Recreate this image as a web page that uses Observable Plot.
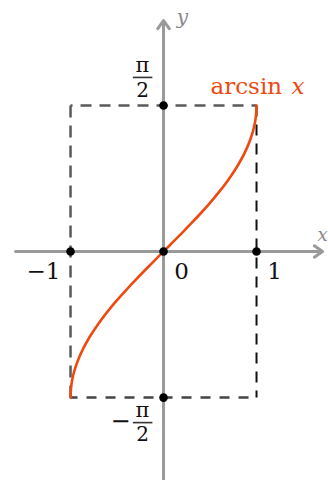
<!DOCTYPE html>
<html>
<head>
<meta charset="utf-8">
<script src="https://cdn.jsdelivr.net/npm/d3@7"></script>
<script src="https://cdn.jsdelivr.net/npm/@observablehq/plot@0.6"></script>
<style>
  html, body { margin: 0; padding: 0; background: #fff; }
  svg { display: block; }
</style>
</head>
<body>
<div id="chart"></div>
<script>
const PI2 = Math.PI / 2;

// curve samples of arcsin x (x, y)
const curveX = [-1, -0.999, -0.995, -0.99, -0.98, -0.96, -0.9, -0.8, -0.7, -0.6, -0.5, -0.4, -0.3, -0.2, -0.1, 0,
                0.1, 0.2, 0.3, 0.4, 0.5, 0.6, 0.7, 0.8, 0.9, 0.96, 0.98, 0.99, 0.995, 0.999, 1];
const curveY = [-1.5708, -1.5261, -1.4706, -1.4293, -1.3705, -1.2870, -1.1198, -0.9273, -0.7754, -0.6435, -0.5236, -0.4115, -0.3047, -0.2014, -0.1002, 0,
                0.1002, 0.2014, 0.3047, 0.4115, 0.5236, 0.6435, 0.7754, 0.9273, 1.1198, 1.2870, 1.3705, 1.4293, 1.4706, 1.5261, 1.5708];

// marked points
const pointX = [-1, 0, 1, 0, 0];
const pointY = [0, 0, 0, PI2, -PI2];

// tick labels on x axis
const xTickValues = [-1, 0, 1];
const xTickLabels = ["−1", "0", "1"];

// bounding box of the range
const boxX = [-1, 1];
const boxY = [-PI2, PI2];

const curve = curveX.map((x, i) => ({x, y: curveY[i]}));
const points = pointX.map((x, i) => ({x, y: pointY[i]}));

const serif = "'DejaVu Serif', 'Liberation Serif', serif";
const axisColor = "#9a9a9a";
const red = "#ee4a10";
const ink = "#111";

const seg = (d, o) => Plot.link([d], {x1: "x1", x2: "x2", y1: "y1", y2: "y2", ...o});
const label = (x, y, text, o) => Plot.text([{x, y}], {x: "x", y: "y", text: () => text, lineAnchor: "middle", ...o});

const chart = Plot.plot({
  width: 328,
  height: 480,
  margin: 0,
  x: {domain: [-1.753, 1.774], axis: null},
  y: {domain: [-2.462, 2.699], axis: null},
  style: {fontFamily: serif, background: "#fff"},
  marks: [
    // axes
    Plot.arrow([{x1: -1.591, x2: 1.71, y1: 0, y2: 0}], {x1: "x1", x2: "x2", y1: "y1", y2: "y2",
      stroke: axisColor, strokeWidth: 3, headLength: 5, headAngle: 70}),
    Plot.arrow([{x1: 0, x2: 0, y1: -2.47, y2: 2.484}], {x1: "x1", x2: "x2", y1: "y1", y2: "y2",
      stroke: axisColor, strokeWidth: 3, headLength: 5, headAngle: 70}),
    // dashed box
    seg({x1: boxX[0], x2: boxX[1], y1: boxY[1], y2: boxY[1]}, {stroke: "#5a5a5a", strokeWidth: 2.5, strokeDasharray: "11,8", strokeDashoffset: -10}),
    seg({x1: boxX[0], x2: boxX[1], y1: boxY[0], y2: boxY[0]}, {stroke: "#444", strokeWidth: 2.5, strokeDasharray: "10,9", strokeDashoffset: -16}),
    seg({x1: boxX[0], x2: boxX[0], y1: boxY[1], y2: boxY[0]}, {stroke: "#5a5a5a", strokeWidth: 2.5, strokeDasharray: "12,8"}),
    seg({x1: boxX[1], x2: boxX[1], y1: boxY[1], y2: boxY[0]}, {stroke: "#111", strokeWidth: 2, strokeDasharray: "11,8"}),
    // curve
    Plot.line(curve, {x: "x", y: "y", stroke: red, strokeWidth: 2.6, curve: "monotone-y"}),
    // points
    Plot.dot(points, {x: "x", y: "y", r: 4.3, fill: "#000"}),
    // x tick labels
    label(xTickValues[0], 0, xTickLabels[0], {dx: -27, dy: 20, fontSize: 23, fill: ink}),
    label(xTickValues[1], 0, xTickLabels[1], {dx: 18, dy: 20, fontSize: 23, fill: ink}),
    label(xTickValues[2], 0, xTickLabels[2], {dx: 18, dy: 20, fontSize: 23, fill: ink}),
    // pi/2 label
    label(0, PI2, "π", {dx: -21, dy: -40, fontSize: 21, fill: ink}),
    label(0, PI2, "2", {dx: -21, dy: -15, fontSize: 20, fill: ink}),
    seg({x1: -0.33, x2: -0.12, y1: PI2, y2: PI2}, {dy: -28, stroke: "#333", strokeWidth: 1.6}),
    // -pi/2 label
    label(0, -PI2, "π", {dx: -21, dy: 13, fontSize: 21, fill: ink}),
    label(0, -PI2, "2", {dx: -21, dy: 37, fontSize: 20, fill: ink}),
    seg({x1: -0.33, x2: -0.12, y1: -PI2, y2: -PI2}, {dy: 25, stroke: "#333", strokeWidth: 1.6}),
    label(0, -PI2, "−", {dx: -43, dy: 24, fontSize: 24, fill: ink}),
    // curve label
    label(1, PI2, "arcsin", {dx: -46, dy: -19, textAnchor: "start", fontSize: 23, fill: red}),
    label(1, PI2, "x", {dx: 48, dy: -19, textAnchor: "end", fontSize: 23, fill: red, fontStyle: "italic"}),
    // axis names
    label(0, 2.484, "y", {dx: 19, dy: -3, fontSize: 20, fill: "#888", fontStyle: "italic"}),
    label(1.71, 0, "x", {dx: -5, dy: -16, fontSize: 18, fill: "#888", fontStyle: "italic", textAnchor: "start"})
  ]
});
document.getElementById("chart").appendChild(chart);
</script>
</body>
</html>
